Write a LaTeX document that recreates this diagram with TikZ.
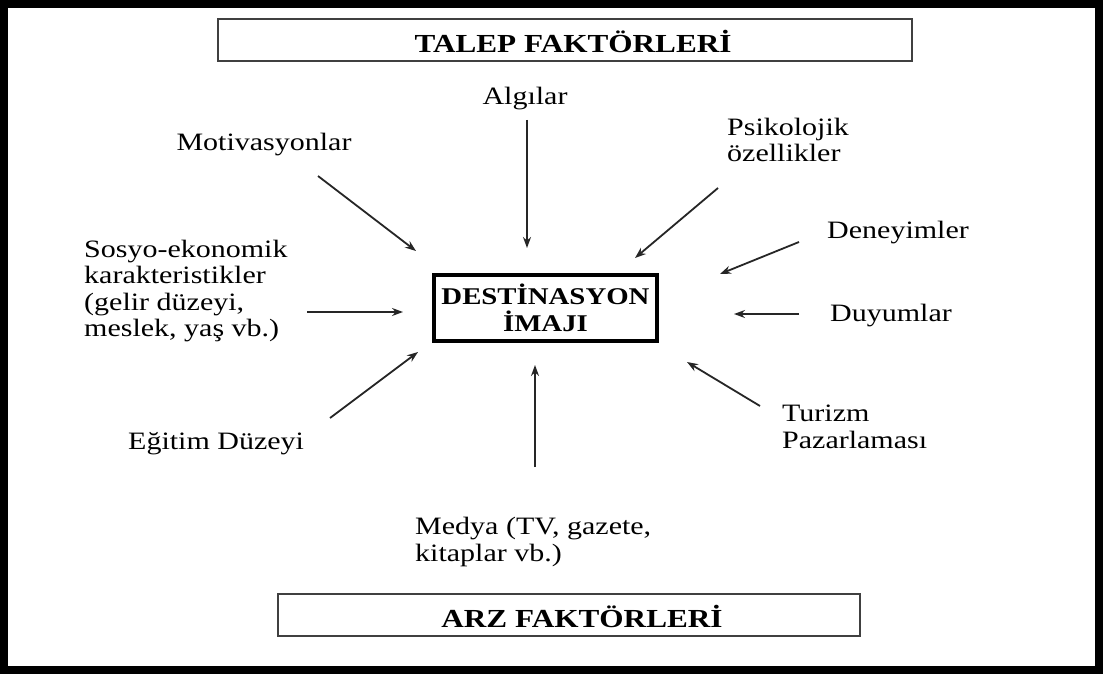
\documentclass[tikz,border=0pt]{standalone}
\usepackage{fontspec}
\setmainfont{Liberation Serif}[FakeStretch=1.2]
\usetikzlibrary{arrows.meta}
\begin{document}
\begin{tikzpicture}[x=1pt,y=-1pt,
  lbl/.style={inner sep=0pt, font=\fontsize{25}{26.5}\selectfont, align=left},
  arr/.style={line width=1.8pt, black!85, -{Stealth[length=11pt,width=8pt]}},
  titlebox/.style={draw=black!75, line width=1.6pt, minimum height=42pt, inner sep=0pt},
  titletext/.style={inner sep=0pt, font=\bfseries\fontsize{26}{28}\selectfont},
  imagebox/.style={draw, line width=4pt, minimum width=223pt, minimum height=66pt,
    font=\bfseries\fontsize{24}{27}\selectfont, align=center, inner sep=0pt}]

% canvas and heavy outer frame
\useasboundingbox (0,0) rectangle (1103,674);
\fill[white] (0,0) rectangle (1103,674);
\draw[line width=8pt] (4,4) rectangle (1099,670);

% factor group headings
\node[titlebox, minimum width=694pt] (talep) at (565,40) {};
\node[titletext] (talepT) at (573,41) {TALEP FAKTÖRLERİ};
\node[titlebox, minimum width=582pt] (arz) at (569,615) {};
\node[titletext] (arzT) at (582,616) {ARZ FAKTÖRLERİ};

% central concept
\node[imagebox] (dest) at (545.5,308) {DESTİNASYON\\İMAJI\hspace{14pt}};

% influencing factors
\node[lbl] (alg) at (525,99) {Algılar};
\node[lbl] (mot) at (264,145) {Motivasyonlar};
\node[lbl, anchor=west] (psi) at (727,140) {Psikolojik\\özellikler};
\node[lbl, anchor=west] (den) at (827,233) {Deneyimler};
\node[lbl, anchor=west] (duy) at (830,316) {Duyumlar};
\node[lbl, anchor=west] (tur) at (782,427) {Turizm\\Pazarlaması};
\node[lbl, anchor=west] (sos) at (84,291) {Sosyo-ekonomik\\karakteristikler\\(gelir düzeyi,\\meslek, yaş vb.)};
\node[lbl, anchor=west] (egi) at (128,444) {Eğitim Düzeyi};
\node[lbl, anchor=west] (med) at (415,542) {Medya (TV, gazete,\\kitaplar vb.)};

% arrow end points
\coordinate (motS) at (318,176);  \coordinate (motE) at (416,251);
\coordinate (algS) at (527,120);  \coordinate (algE) at (527,248);
\coordinate (psiS) at (718,188);  \coordinate (psiE) at (635,258);
\coordinate (denS) at (799,242);  \coordinate (denE) at (720,274);
\coordinate (duyS) at (799,314);  \coordinate (duyE) at (734,314);
\coordinate (sosS) at (307,312);  \coordinate (sosE) at (403,312);
\coordinate (egiS) at (330,418);  \coordinate (egiE) at (418,352);
\coordinate (medS) at (535,467);  \coordinate (medE) at (535,365);
\coordinate (turS) at (760,406);  \coordinate (turE) at (687,362);

\draw[arr] (motS) -- (motE);
\draw[arr] (algS) -- (algE);
\draw[arr] (psiS) -- (psiE);
\draw[arr] (denS) -- (denE);
\draw[arr] (duyS) -- (duyE);
\draw[arr] (sosS) -- (sosE);
\draw[arr] (egiS) -- (egiE);
\draw[arr] (medS) -- (medE);
\draw[arr] (turS) -- (turE);
\end{tikzpicture}
\end{document}
